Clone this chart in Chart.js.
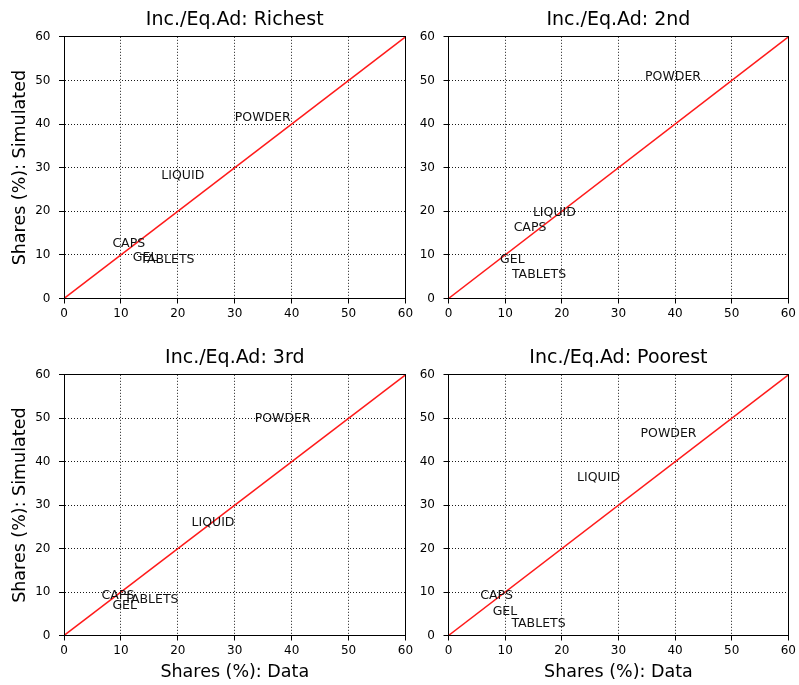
<!DOCTYPE html>
<html>
<head>
<meta charset="utf-8">
<title>Shares: Data vs Simulated</title>
<script src="https://cdn.jsdelivr.net/npm/chart.js@4"></script>
<style>
  html, body { margin: 0; padding: 0; background: #fff; }
  #wrap { position: relative; width: 799px; height: 685px; overflow: hidden; }
  .panel { position: absolute; }
  canvas { display: block; }
</style>
</head>
<body>
<div id="wrap">
  <div class="panel" style="left:0px;top:0px"><canvas id="c0" width="424" height="338"></canvas></div>
  <div class="panel" style="left:412px;top:0px"><canvas id="c1" width="387" height="338"></canvas></div>
  <div class="panel" style="left:0px;top:338px"><canvas id="c2" width="424" height="347"></canvas></div>
  <div class="panel" style="left:412px;top:338px"><canvas id="c3" width="387" height="347"></canvas></div>
</div>
<script>
// Product categories (label text placed at each data/simulated share pair)
const categories = ['POWDER', 'LIQUID', 'CAPS', 'GEL', 'TABLETS'];

// Panel titles by income / equivalised adult group
const panelTitles = ['Inc./Eq.Ad: Richest', 'Inc./Eq.Ad: 2nd', 'Inc./Eq.Ad: 3rd', 'Inc./Eq.Ad: Poorest'];

// Observed shares (%) per category
const richestData = [30.0, 17.1, 8.5, 12.1, 13.4];
const secondData  = [34.7, 14.9, 11.5, 9.1, 11.2];
const thirdData   = [33.5, 22.4, 6.6, 8.5, 10.6];
const poorestData = [33.9, 22.7, 5.6, 7.8, 11.1];

// Simulated shares (%) per category
const richestSim = [40.7, 27.3, 11.7, 8.7, 8.1];
const secondSim  = [50.1, 18.9, 15.5, 8.1, 4.6];
const thirdSim   = [49.2, 25.3, 8.4, 6.0, 7.5];
const poorestSim = [45.7, 35.6, 8.4, 4.8, 2.0];

// Axis ticks (both axes) and the 45-degree reference line
const axisTicks = [0, 10, 20, 30, 40, 50, 60];
const diagonal = [0, 60];

const xLabel = 'Shares (%): Data';
const yLabel = 'Shares (%): Simulated';

Chart.defaults.font.family = '"DejaVu Sans", sans-serif';
Chart.defaults.color = '#000';

// Category names written at each point, left-aligned on the baseline
const shareLabels = {
  id: 'shareLabels',
  afterDatasetsDraw(chart) {
    const meta = chart.getDatasetMeta(1);
    const ctx = chart.ctx;
    ctx.save();
    ctx.font = '12.5px "DejaVu Sans", sans-serif';
    ctx.fillStyle = '#111';
    ctx.textAlign = 'left';
    ctx.textBaseline = 'alphabetic';
    meta.data.forEach((pt, i) => ctx.fillText(categories[i], pt.x, pt.y));
    ctx.restore();
  }
};

// Box around the whole plotting area
const frame = {
  id: 'frame',
  afterDraw(chart) {
    const a = chart.chartArea;
    const ctx = chart.ctx;
    const al = v => Math.round(v - 0.5) + 0.5;
    ctx.save();
    ctx.strokeStyle = '#000';
    ctx.lineWidth = 1;
    ctx.strokeRect(al(a.left), al(a.top), al(a.right) - al(a.left), al(a.bottom) - al(a.top));
    ctx.restore();
  }
};

function makeChart(id, title, xs, ys, opt) {
  const points = xs.map((x, i) => ({ x: x, y: ys[i] }));
  const axisBase = {
    type: 'linear',
    min: axisTicks[0],
    max: axisTicks[axisTicks.length - 1],
    afterBuildTicks: s => { s.ticks = axisTicks.map(v => ({ value: v })); },
    grid: {
      color: 'rgba(0,0,0,0.9)',
      lineWidth: 1,
      tickLength: 5,
      tickColor: '#000',
      tickWidth: 1,
      tickBorderDash: []
    },
    border: { display: true, color: '#000', width: 1, dash: [1, 2] },
    ticks: { font: { size: 12 }, color: '#000' }
  };
  return new Chart(document.getElementById(id), {
    type: 'scatter',
    data: {
      datasets: [
        {
          data: diagonal.map(v => ({ x: v, y: v })),
          showLine: true,
          borderColor: '#ff1a1a',
          borderWidth: 1.5,
          pointRadius: 0,
          pointHoverRadius: 0
        },
        {
          data: points,
          pointRadius: 0,
          pointHoverRadius: 0,
          showLine: false
        }
      ]
    },
    options: {
      responsive: false,
      animation: false,
      events: [],
      layout: { padding: { left: 0, top: 0, bottom: 0, right: opt.padRight } },
      plugins: {
        legend: { display: false },
        tooltip: { enabled: false },
        title: {
          display: true,
          text: title,
          fullSize: false,
          color: '#000',
          font: { size: 19, weight: 'normal' },
          padding: { top: 9, bottom: 5 }
        }
      },
      scales: {
        x: Object.assign({}, axisBase, {
          position: 'bottom',
          ticks: Object.assign({}, axisBase.ticks, { padding: 3, maxRotation: 0 }),
          title: {
            display: opt.showX,
            text: xLabel,
            color: '#000',
            font: { size: 17.5 },
            padding: { top: 0, bottom: 2 }
          },
          afterFit: s => { s.height = opt.xH; }
        }),
        y: Object.assign({}, axisBase, {
          position: 'left',
          ticks: Object.assign({}, axisBase.ticks, { padding: 8.5 }),
          title: {
            display: opt.showY,
            text: yLabel,
            color: '#000',
            font: { size: 17.5 },
            padding: { top: 10, bottom: 0 }
          },
          afterFit: s => { s.width = opt.yW; }
        })
      }
    },
    plugins: [shareLabels, frame]
  });
}

makeChart('c0', panelTitles[0], richestData, richestSim, { padRight: 18.5, yW: 64, xH: 39.5, showX: false, showY: true });
makeChart('c1', panelTitles[1], secondData, secondSim, { padRight: 9, yW: 36.5, xH: 39.5, showX: false, showY: false });
makeChart('c2', panelTitles[2], thirdData, thirdSim, { padRight: 18.5, yW: 64, xH: 49.5, showX: true, showY: true });
makeChart('c3', panelTitles[3], poorestData, poorestSim, { padRight: 9, yW: 36.5, xH: 49.5, showX: true, showY: false });
</script>
</body>
</html>
